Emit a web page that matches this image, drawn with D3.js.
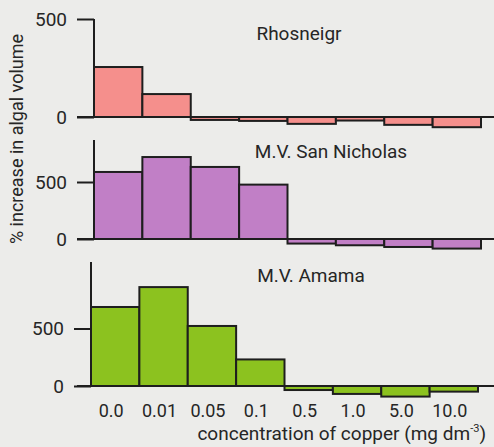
<!DOCTYPE html>
<html><head><meta charset="utf-8">
<script src="https://cdn.jsdelivr.net/npm/d3@7"></script>
<style>
html,body{margin:0;padding:0;background:#ececea;}
svg{display:block;}
text{font-family:Roboto,"Noto Sans",sans-serif;fill:#262626;}
</style></head>
<body>
<svg id="c" width="494" height="447"></svg>
<script>
const categories = ["0.0","0.01","0.05","0.1","0.5","1.0","5.0","10.0"];
const rhosneigr = [255, 117, -15, -20, -35, -18, -40, -52];
const sanNicholas = [588, 719, 632, 477, -40, -55, -70, -84];
const amama = [687, 860, 522, 231, -35, -69, -92, -49];
const yTicks = [0, 500];
const panelNames = ["Rhosneigr", "M.V. San Nicholas", "M.V. Amama"];

const svg = d3.select("#c");
const W = 494;

const panels = [
  {name: panelNames[0], values: rhosneigr, fill: "#f58f8c", x0: 94, x1: 481, yZero: 117, y500: 19, axisTop: 19, title: [299, 40]},
  {name: panelNames[1], values: sanNicholas, fill: "#c17fc6", x0: 94, x1: 481, yZero: 239, y500: 182, axisTop: 140, title: [331, 158]},
  {name: panelNames[2], values: amama, fill: "#8cc21f", x0: 91, x1: 478, yZero: 386, y500: 328.5, axisTop: 262, title: [311, 281.5]}
];

panels.forEach((p, i) => {
  const x = d3.scaleBand().domain(categories).range([p.x0, p.x1]).padding(0);
  const y = d3.scaleLinear().domain([0, 500]).range([p.yZero, p.y500]);
  const g = svg.append("g");

  g.selectAll("rect").data(p.values).join("rect")
    .attr("x", (d, j) => x(categories[j]))
    .attr("width", x.bandwidth())
    .attr("y", d => Math.min(y(d), y(0)))
    .attr("height", d => Math.abs(y(d) - y(0)))
    .attr("fill", p.fill)
    .attr("stroke", "#1e1e1e")
    .attr("stroke-width", 2);

  // zero baseline
  g.append("line").attr("x1", 77).attr("x2", W).attr("y1", y(0)).attr("y2", y(0))
    .attr("stroke", "#1e1e1e").attr("stroke-width", 2);

  // y axis
  const axis = d3.axisLeft(y).tickValues(yTicks).tickSize(17).tickPadding(10).tickFormat(d3.format("d"));
  const ag = g.append("g").attr("transform", `translate(${p.x0},0)`).call(axis);
  ag.select(".domain").remove();
  ag.append("line").attr("x1", 0).attr("x2", 0).attr("y1", p.axisTop).attr("y2", y(0))
    .attr("stroke", "#1e1e1e").attr("stroke-width", 2);
  ag.selectAll(".tick line").attr("stroke", "#1e1e1e").attr("stroke-width", 2);
  ag.selectAll(".tick text").attr("font-size", 19).attr("font-family", "Roboto").attr("fill", "#2a2a2a");

  g.append("text").attr("x", p.title[0]).attr("y", p.title[1]).attr("text-anchor", "middle")
    .attr("font-size", 19).text(p.name);

  if (i === 2) {
    g.selectAll(".cat").data(categories).join("text").attr("class", "cat")
      .attr("x", d => x(d) + x.bandwidth() / 2 - 4)
      .attr("y", 417).attr("text-anchor", "middle").attr("font-size", 18)
      .text(d => d);
  }
});

// x title
const xt = svg.append("text").attr("x", 486).attr("y", 440).attr("text-anchor", "end").attr("font-size", 19);
xt.append("tspan").text("concentration of copper (mg dm");
xt.append("tspan").attr("font-size", 11).attr("dy", -8).text("-3");
xt.append("tspan").attr("dy", 8).text(")");

// y title
svg.append("text").attr("transform", "translate(23,139) rotate(-90)").attr("text-anchor", "middle")
  .attr("font-size", 18).text("% increase in algal volume");
</script>
</body></html>
